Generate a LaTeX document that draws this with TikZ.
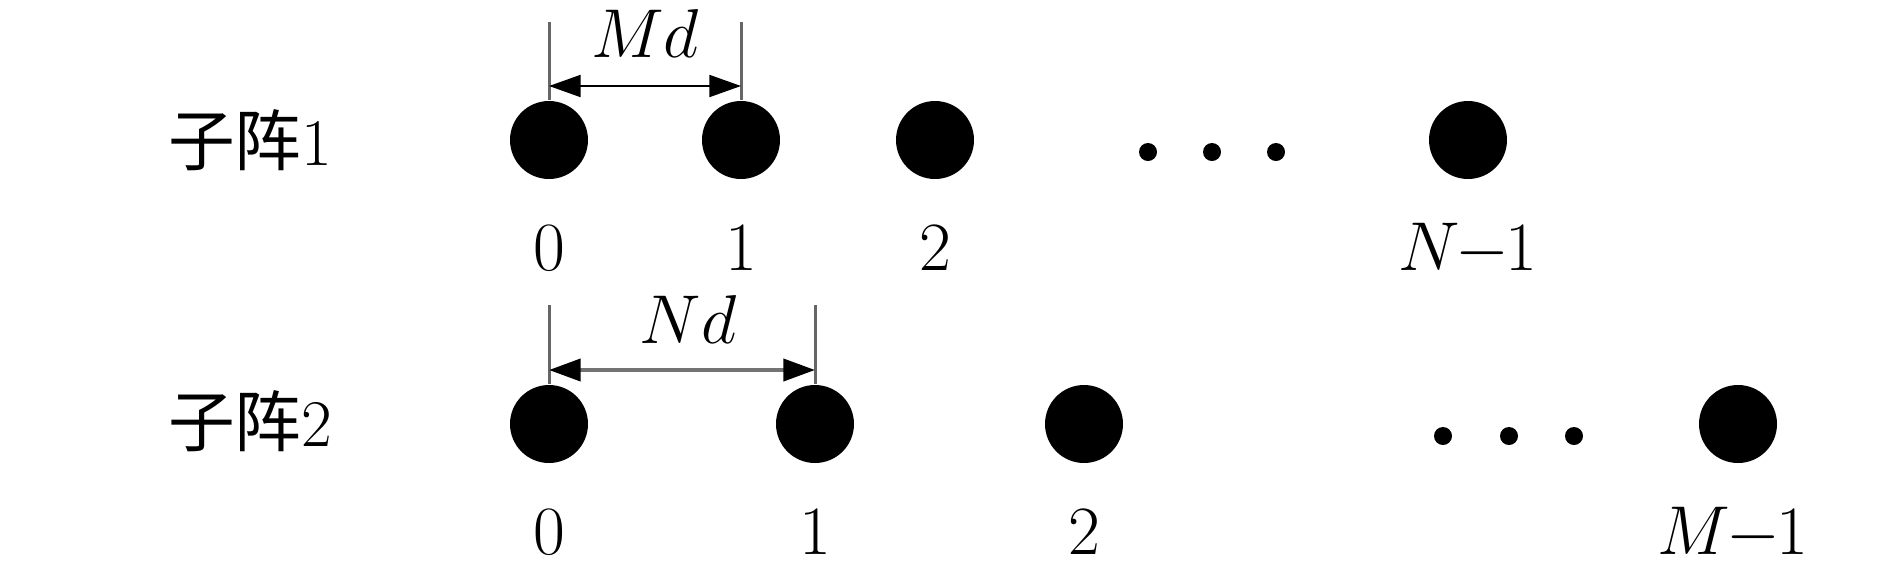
\documentclass[tikz,border=0pt]{standalone}
\usepackage{fontspec}
\usepackage{xcolor}
\usepackage{tikz}
\usetikzlibrary{arrows.meta,positioning}
\newfontfamily\cjk{Noto Sans CJK SC}

\begin{document}
\begin{tikzpicture}[x=0.3pt,y=-0.3pt,
      font=\fontsize{20}{24}\selectfont,
      elem/.style={circle,fill=black,inner sep=0pt,minimum size=23.4pt},
      gap/.style={circle,fill=black,inner sep=0pt,minimum size=5.4pt},
      num/.style={anchor=base},
      tick/.style={draw=black!60,line width=0.9pt},
      dim/.style={{Triangle[length=9.5pt,width=6.6pt,color=black]}-{Triangle[length=9.5pt,width=6.6pt,color=black]}}]
      \useasboundingbox (0,0) rectangle (1890,574);
      % subarray 1
      \node (s1) at (250,140) {{\cjk 子阵}1};
      \node[elem] (a0) at (549,140) {};
      \node[elem] (a1) at (741,140) {};
      \node[elem] (a2) at (935,140) {};
      \node[gap] (ga1) at (1148,152) {};
      \node[gap] (ga2) at (1212,152) {};
      \node[gap] (ga3) at (1276,152) {};
      \node[elem] (an) at (1468,140) {};
      \node[num] (la0) at (549,270) {$0$};
      \node[num] (la1) at (741,270) {$1$};
      \node[num] (la2) at (935,270) {$2$};
      \node[num] (lan) at (1468,270) {$N\mkern-1mu{-}\mkern-1mu1$};
      \coordinate (ta0) at (549,22);
      \coordinate (ta1) at (741,22);
      \draw[tick] (ta0) -- (a0.north);
      \draw[tick] (ta1) -- (a1.north);
      \coordinate (ma0) at (549,86);
      \coordinate (ma1) at (741,86);
      \draw[dim,line width=0.6pt] (ma0) -- (ma1);
      \node[num] (md) at (645,57) {$Md$};
      % subarray 2
      \node (s2) at (250,421) {{\cjk 子阵}2};
      \node[elem] (b0) at (549,424) {};
      \node[elem] (b1) at (815,424) {};
      \node[elem] (b2) at (1084,424) {};
      \node[gap] (gb1) at (1443,436) {};
      \node[gap] (gb2) at (1509,436) {};
      \node[gap] (gb3) at (1574,436) {};
      \node[elem] (bm) at (1738,424) {};
      \node[num] (lb0) at (549,554) {$0$};
      \node[num] (lb1) at (815,554) {$1$};
      \node[num] (lb2) at (1084,554) {$2$};
      \node[num] (lbm) at (1733,554) {$M\mkern-1mu{-}\mkern-1mu1$};
      \coordinate (tb0) at (549,305);
      \coordinate (tb1) at (815,305);
      \draw[tick] (tb0) -- (b0.north);
      \draw[tick] (tb1) -- (b1.north);
      \coordinate (mb0) at (549,370);
      \coordinate (mb1) at (815,370);
      \draw[dim,draw=black!55,line width=1.2pt] (mb0) -- (mb1);
      \node[num] (nd) at (688,343) {$Nd$};
    \end{tikzpicture}
\end{document}
